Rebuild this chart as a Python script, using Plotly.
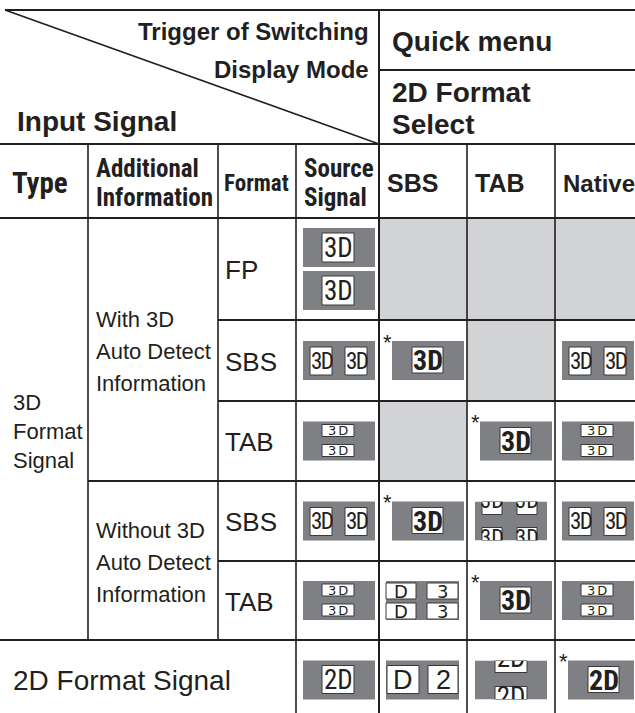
import plotly.graph_objects as go

# ---------------- data (table content) ----------------
title_trigger = ["Trigger of Switching", "Display Mode"]
title_input = "Input Signal"
menu_title = "Quick menu"
menu_sub = ["2D Format", "Select"]
header_labels = [["Type"], ["Additional", "Information"], ["Format"], ["Source", "Signal"],
                 ["SBS"], ["TAB"], ["Native"]]
type_labels = [["3D", "Format", "Signal"], ["2D Format Signal"]]
info_labels = [["With 3D", "Auto Detect", "Information"],
               ["Without 3D", "Auto Detect", "Information"]]
format_labels = ["FP", "SBS", "TAB", "SBS", "TAB"]
# icon code per row for columns: Source Signal, SBS, TAB, Native
cell_icons = [
    ["fp", "na", "na", "na"],
    ["sbs", "star3d", "na", "sbs"],
    ["tab", "na", "star3d", "tab"],
    ["sbs", "star3d", "sbs_as_tab", "sbs"],
    ["tab", "tab_as_sbs", "star3d", "tab"],
    ["2d", "2d_as_sbs", "2d_as_tab", "star2d"],
]

# ---------------- layout geometry ----------------
W, H = 635, 713
col_edges = [0, 88, 218, 296, 379, 467, 555, 635]
row_edges = [218, 320, 401, 481, 561, 640, 720]
y_top, y_menu, y_head = 10, 70, 144

INK = "#231f20"
DARK = "#7f8083"
LIGHT = "#d1d3d4"
SANS = "Liberation Sans, Arial, Helvetica, sans-serif"
NARROW = "Roboto Condensed, Open Sans Condensed, Liberation Sans, sans-serif"
WIDE = "DejaVu Sans, Liberation Sans, sans-serif"

shapes_below, shapes_above, covers, annos, traces = [], [], [], [], []


def rect(lst, x0, y0, x1, y1, fill, lc=None, lw=0):
    lst.append(dict(type="rect", xref="x", yref="y", x0=x0, y0=y0, x1=x1, y1=y1,
                    fillcolor=fill, line=dict(color=lc or fill, width=lw),
                    layer="above" if lst is not shapes_below else "below"))


def line(x0, y0, x1, y1, w=2):
    shapes_above.append(dict(type="line", xref="x", yref="y", x0=x0, y0=y0, x1=x1, y1=y1,
                             line=dict(color=INK, width=w), layer="above"))


def text(x, y, s, size, family=SANS, bold=False, xa="left", color=INK):
    annos.append(dict(x=x, y=y, xref="x", yref="y", text=s, showarrow=False,
                      xanchor=xa, yanchor="middle", borderpad=0,
                      font=dict(family=family, size=size, color=color,
                                weight="bold" if bold else "normal")))


def clipped_text(xs, ys, s, size, family):
    traces.append(go.Scatter(x=xs, y=ys, mode="text", text=[s] * len(xs),
                             textposition="middle center", hoverinfo="skip",
                             showlegend=False,
                             textfont=dict(family=family, size=size, color=INK)))


def wbox(x0, y0, x1, y1):
    rect(shapes_below, x0, y0, x1, y1, "white", "#3a3a3a", 1)


IW, IH = 72, 39


def draw_icon(code, cl, cr, rt, rb):
    cy = (rt + rb) / 2
    gy = cy - IH / 2
    if code == "na":
        rect(shapes_below, cl, rt, cr, rb, LIGHT)
    elif code == "fp":
        gx = cl + 7
        for oy in (cy - 41, cy + 2):
            rect(shapes_below, gx, oy, gx + IW, oy + IH, DARK)
            wbox(gx + 19, oy + 5, gx + 51, oy + 34)
            text(gx + 35, oy + 19.5, "3D", 27, NARROW, xa="center")
    elif code == "sbs":
        gx = cl + 7
        rect(shapes_below, gx, gy, gx + IW, gy + IH, DARK)
        for bx in (gx + 7, gx + 42):
            wbox(bx, gy + 6, bx + 22, gy + 34)
            text(bx + 11.5, gy + 20, "<span style='letter-spacing:-1.5px'>3D</span>", 23, NARROW, xa="center")
    elif code == "tab":
        gx = cl + 7
        rect(shapes_below, gx, gy, gx + IW, gy + IH, DARK)
        for by0, by1 in ((gy + 3, gy + 15), (gy + 23, gy + 35)):
            wbox(gx + 19, by0, gx + 51, by1)
            text(gx + 36, (by0 + by1) / 2, "<span style='letter-spacing:2px'>3D</span>", 13, WIDE, xa="center")
    elif code in ("star3d", "star2d"):
        gx = cl + 13
        rect(shapes_below, gx, gy, min(gx + IW, cr - 1), gy + IH, DARK)
        wbox(gx + 20, gy + 6, gx + 51, gy + 32)
        text(gx + 35.5, gy + 19.5, "3D" if code == "star3d" else "2D", 28, NARROW, bold=True, xa="center")
        text(cl + 8, gy + 1, "*", 22, SANS, xa="center")
    elif code == "2d":
        gx = cl + 7
        rect(shapes_below, gx, gy, gx + IW, gy + IH, DARK)
        wbox(gx + 19, gy + 5, gx + 51, gy + 33)
        text(gx + 35, gy + 19.5, "2D", 27, NARROW, xa="center")
    elif code == "sbs_as_tab":
        gx = cl + 8
        rect(shapes_below, gx, gy, gx + IW, gy + IH, DARK)
        xs, ys = [], []
        for bx in (gx + 7, gx + 42):
            wbox(bx, gy, bx + 20, gy + 13)
            wbox(bx, gy + 26, bx + 20, gy + IH)
            xs += [bx + 10, bx + 10]
            ys += [gy + 1, gy + IH - 1]
        clipped_text(xs, ys, "3D", 22, NARROW)
        rect(covers, cl + 1, rt + 1, cr - 1, gy, "white")
        rect(covers, cl + 1, gy + IH, cr - 1, rb - 1, "white")
    elif code == "2d_as_tab":
        gx = cl + 8
        rect(shapes_below, gx, gy, gx + IW, gy + IH, DARK)
        wbox(gx + 20, gy, gx + 52, gy + 12)
        wbox(gx + 20, gy + 26, gx + 52, gy + IH)
        clipped_text([gx + 36, gx + 36], [gy, gy + IH], "2D", 27, NARROW)
        rect(covers, cl + 1, rt + 1, cr - 1, gy, "white")
        rect(covers, cl + 1, gy + IH, cr - 1, rb + 5, "white")
    elif code == "tab_as_sbs":
        gx = cl + 7
        rect(shapes_below, gx, gy, gx + IW + 1, gy + IH, DARK)
        for by0, by1 in ((gy + 2, gy + 18), (gy + 22, gy + 38)):
            wbox(gx, by0, gx + 30, by1)
            wbox(gx + 41, by0, gx + 72, by1)
            text(gx + 15, (by0 + by1) / 2, "D", 18, WIDE, xa="center")
            text(gx + 56.5, (by0 + by1) / 2, "3", 18, WIDE, xa="center")
    elif code == "2d_as_sbs":
        gx = cl + 7
        rect(shapes_below, gx, gy, gx + IW + 1, gy + IH, DARK)
        wbox(gx + 1, gy + 5, gx + 33, gy + 33)
        wbox(gx + 42, gy + 5, gx + 72, gy + 33)
        text(gx + 17, gy + 19.5, "D", 27, SANS, xa="center")
        text(gx + 57, gy + 19.5, "2", 27, SANS, xa="center")


# ---------------- cells ----------------
for r, row in enumerate(cell_icons):
    for c, code in enumerate(row):
        draw_icon(code, col_edges[3 + c], col_edges[4 + c], row_edges[r], row_edges[r + 1])

# ---------------- texts ----------------
text(370, 31, title_trigger[0], 24, SANS, bold=True, xa="right")
text(370, 69, title_trigger[1], 24, SANS, bold=True, xa="right")
text(16, 121, title_input, 28, SANS, bold=True)
text(391, 41, menu_title, 28, SANS, bold=True)
text(391, 92, menu_sub[0], 28, SANS, bold=True)
text(391, 124, menu_sub[1], 28, SANS, bold=True)

hy = (y_head + row_edges[0]) / 2
header_sizes = [29, 25, 23, 25, 25, 25, 24]
for i, lab in enumerate(header_labels):
    x = col_edges[i] + (11 if i == 0 else (5 if i == 2 else 7))
    fam = SANS if i >= 4 else NARROW
    n = len(lab)
    for k, s in enumerate(lab):
        text(x, hy + 2 + (k - (n - 1) / 2) * 29, s, header_sizes[i], fam, bold=True)

# type column
ty = (row_edges[0] + row_edges[5]) / 2 + 2
for k, s in enumerate(type_labels[0]):
    text(12, ty + (k - 1) * 29, s, 22, SANS)
text(12, (row_edges[5] + row_edges[6]) / 2, type_labels[1][0], 28, SANS)

# additional information
groups = [(0, 3), (3, 5)]
for g, (a, b) in enumerate(groups):
    gy = (row_edges[a] + row_edges[b]) / 2 + 2
    for k, s in enumerate(info_labels[g]):
        text(95, gy + (k - 1) * 32, s, 22, SANS)

# format
for r, s in enumerate(format_labels):
    text(224, (row_edges[r] + row_edges[r + 1]) / 2 + 1, s, 26, SANS)

# ---------------- rules ----------------
line(5, y_top, W, y_top)
line(5, y_top, col_edges[4], y_head, 1.6)
line(col_edges[4], y_menu, W, y_menu)
line(0, y_head, W, y_head)
line(0, row_edges[0], W, row_edges[0])
for r in (1, 2, 4):
    line(col_edges[2], row_edges[r], W, row_edges[r])
line(col_edges[1], row_edges[3], W, row_edges[3])
line(0, row_edges[5], W, row_edges[5])
line(col_edges[4], y_top, col_edges[4], H, 2)
for c in (1, 2):
    line(col_edges[c], y_head, col_edges[c], row_edges[5], 1.6)
for c in (3, 5, 6):
    line(col_edges[c], y_head, col_edges[c], H, 1.6)

fig = go.Figure(traces)
fig.update_layout(
    width=W, height=H, margin=dict(l=0, r=0, t=0, b=0),
    paper_bgcolor="white", plot_bgcolor="white",
    xaxis=dict(range=[0, W], visible=False, fixedrange=True),
    yaxis=dict(range=[H, 0], visible=False, fixedrange=True),
    shapes=shapes_below + covers + shapes_above,
    annotations=annos,
    showlegend=False,
)
fig.write_html("out.html", config={"displayModeBar": False},
               post_script="document.body.style.margin='0px';")
